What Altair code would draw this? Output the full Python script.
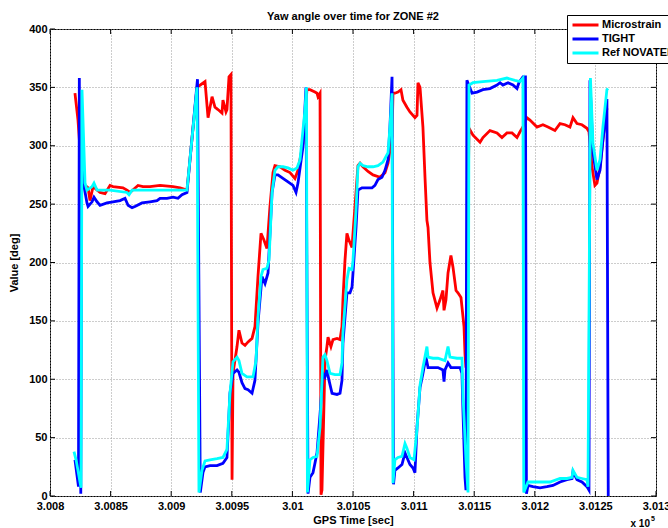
import altair as alt
import pandas as pd

# ---------------- data (GPS time in units of 1e5 s, yaw in deg) ----------------
series_names = ["Microstrain", "TIGHT", "Ref NOVATEL"]
series_colors = ["#ff0000", "#0000ff", "#00ffff"]

red_t = [
    3.008206, 3.008231, 3.008256, 3.008289, 3.008314, 3.008330, 3.008355, 3.008413, 3.008454, 3.008495,
    3.008520, 3.008602, 3.008635, 3.008660, 3.008726, 3.008767, 3.008825, 3.008908, 3.009015, 3.009073, 3.009130,
    3.009213, 3.009279, 3.009304, 3.009337, 3.009361, 3.009386, 3.009419, 3.009427, 3.009452, 3.009460, 3.009477, 3.009493,
    3.009502, 3.009510, 3.009543, 3.009559, 3.009584, 3.009609, 3.009634, 3.009667, 3.009691, 3.009716,
    3.009741, 3.009766, 3.009790, 3.009815, 3.009840, 3.009856, 3.009898, 3.009939, 3.009980, 3.010021, 3.010046, 3.010087, 3.010120,
    3.010145, 3.010186, 3.010203, 3.010211, 3.010228,
    3.010236, 3.010244, 3.010269, 3.010285, 3.010294, 3.010318, 3.010335, 3.010368, 3.010393, 3.010409, 3.010417, 3.010434,
    3.010450, 3.010467, 3.010492, 3.010500, 3.010525, 3.010541, 3.010558, 3.010582, 3.010624, 3.010665, 3.010723, 3.010764, 3.010789, 3.010822,
    3.010830, 3.010846, 3.010871, 3.010896, 3.010912, 3.010945, 3.010970, 3.011011, 3.011028, 3.011036, 3.011053,
    3.011077, 3.011094, 3.011110, 3.011119, 3.011135, 3.011160, 3.011193, 3.011218, 3.011242, 3.011251, 3.011267,
    3.011284, 3.011308, 3.011325, 3.011350, 3.011366, 3.011391, 3.011399, 3.011416, 3.011424, 3.011432,
    3.011457, 3.011490, 3.011548, 3.011572, 3.011630, 3.011688, 3.011729, 3.011770, 3.011812, 3.011853, 3.011878, 3.011902,
    3.011935, 3.011960, 3.012018, 3.012067, 3.012109, 3.012166, 3.012208, 3.012249, 3.012290, 3.012315, 3.012348, 3.012389, 3.012430, 3.012447,
    3.012472, 3.012496, 3.012513, 3.012538, 3.012562, 3.012595,
]
red_v = [
    345, 322, 285, 266, 264, 253, 265, 260, 259, 266,
    265, 264, 262, 260, 266, 265, 265, 266, 265, 264, 262,
    350, 355, 324, 342, 333, 331, 328, 339, 329, 331, 359, 361,
    14, 105, 128, 142, 131, 129, 132, 135, 145, 188,
    225, 219, 212, 248, 277, 283, 282, 279, 277, 272, 279, 302, 348,
    348, 346, 345, 342, 345,
    1, 5, 116, 128, 136, 128, 134, 135, 134, 145, 168, 202,
    225, 219, 213, 225, 260, 283, 285, 282, 278, 275, 273, 277, 285, 308,
    345, 345, 346, 348, 339, 333, 329, 324, 326, 354, 350,
    316, 273, 236, 230, 200, 174, 161, 168, 176, 159, 168,
    191, 206, 196, 176, 174, 170, 162, 145, 122, 110,
    315, 309, 303, 307, 313, 311, 307, 311, 311, 307, 312, 316,
    324, 322, 316, 318, 316, 313, 319, 318, 316, 324, 319, 318, 315, 312,
    282, 266, 268, 282, 305, 332,
]

blue_t = [
    3.008206, 3.008235, 3.008242, 3.008254, 3.008262, 3.008281, 3.008305, 3.008314, 3.008347, 3.008363,
    3.008388, 3.008413, 3.008470, 3.008520, 3.008578, 3.008619, 3.008644, 3.008677, 3.008701, 3.008759,
    3.008825, 3.008883, 3.008908, 3.008965, 3.009015, 3.009056, 3.009089, 3.009130, 3.009217,
    3.009240, 3.009262, 3.009279, 3.009320, 3.009378, 3.009427, 3.009460, 3.009485, 3.009510, 3.009543,
    3.009559, 3.009584, 3.009609, 3.009634, 3.009667, 3.009691, 3.009716, 3.009749, 3.009774, 3.009799,
    3.009832, 3.009856, 3.009881, 3.009922, 3.009964, 3.010005, 3.010030, 3.010046, 3.010087, 3.010112,
    3.010129, 3.010145, 3.010170, 3.010186, 3.010203, 3.010228, 3.010252, 3.010269, 3.010285, 3.010302,
    3.010327, 3.010368, 3.010393, 3.010409, 3.010417, 3.010450, 3.010475, 3.010492, 3.010500, 3.010525,
    3.010541, 3.010574, 3.010615, 3.010657, 3.010681, 3.010706, 3.010739, 3.010764, 3.010789, 3.010805, 3.010822,
    3.010834, 3.010846, 3.010871, 3.010904, 3.010929, 3.010945, 3.010970, 3.010995, 3.011011, 3.011028,
    3.011053, 3.011077, 3.011102, 3.011119, 3.011160, 3.011201, 3.011242, 3.011251, 3.011259, 3.011284,
    3.011308, 3.011341, 3.011383, 3.011399, 3.011407, 3.011424, 3.011432, 3.011440,
    3.011482, 3.011523, 3.011572, 3.011630, 3.011688, 3.011713, 3.011737, 3.011779, 3.011820, 3.011853, 3.011869, 3.011902, 3.011923,
    3.011931, 3.011944, 3.011985, 3.012043, 3.012100, 3.012150, 3.012208, 3.012265, 3.012307, 3.012315, 3.012348, 3.012389, 3.012430, 3.012447,
    3.012455, 3.012480, 3.012513, 3.012538, 3.012562, 3.012587, 3.012595, 3.012606,
]
blue_v = [
    31, 8, 358, 2, 294, 265, 251, 248, 252, 256,
    252, 249, 251, 252, 253, 255, 249, 247, 248, 251,
    252, 253, 255, 255, 256, 255, 258, 260, 357,
    3, 20, 25, 26, 26, 28, 33, 88, 105, 108,
    106, 97, 92, 91, 88, 99, 148, 188, 182, 191,
    260, 275, 275, 272, 269, 266, 260, 268, 299, 350,
    2, 16, 20, 28, 37, 70, 105, 102, 108, 99,
    88, 87, 88, 99, 131, 174, 174, 179, 191, 230,
    262, 264, 264, 264, 266, 271, 273, 279, 288, 316, 359,
    10, 22, 24, 27, 37, 33, 27, 24, 20, 59,
    93, 105, 119, 110, 110, 110, 108, 98, 108, 114,
    110, 110, 110, 105, 74, 16, 5, 356,
    345, 346, 348, 349, 352, 354, 352, 354, 352, 349, 354, 359, 359,
    2, 9, 8, 7, 8, 9, 12, 14, 15, 21, 14, 12, 8, 5,
    356, 294, 271, 279, 305, 328, 340, 0,
]

cyan_t = [
    3.008198, 3.008215, 3.008256, 3.008264, 3.008289, 3.008305, 3.008347, 3.008363, 3.008388, 3.008495,
    3.008635, 3.008652, 3.008677, 3.008800, 3.009130, 3.009213, 3.009229,
    3.009254, 3.009279, 3.009320, 3.009378, 3.009427, 3.009460, 3.009485, 3.009510, 3.009543, 3.009559,
    3.009584, 3.009625, 3.009675, 3.009700, 3.009716, 3.009741, 3.009757, 3.009790, 3.009807, 3.009832,
    3.009856, 3.009881, 3.009922, 3.009964, 3.010005, 3.010038, 3.010063, 3.010104, 3.010116, 3.010124,
    3.010145, 3.010170, 3.010203, 3.010228, 3.010252, 3.010269, 3.010285, 3.010310, 3.010351, 3.010393,
    3.010409, 3.010417, 3.010450, 3.010467, 3.010492, 3.010500, 3.010525, 3.010541, 3.010558, 3.010582,
    3.010624, 3.010665, 3.010706, 3.010747, 3.010789, 3.010805, 3.010822, 3.010830,
    3.010846, 3.010871, 3.010904, 3.010929, 3.010945, 3.010970, 3.011003, 3.011028, 3.011053, 3.011077,
    3.011110, 3.011119, 3.011160, 3.011201, 3.011259, 3.011284, 3.011300, 3.011358, 3.011399, 3.011407,
    3.011432, 3.011449, 3.011457,
    3.011490, 3.011572, 3.011688, 3.011770, 3.011836, 3.011878, 3.011902, 3.011909,
    3.011944, 3.012043, 3.012125, 3.012208, 3.012265, 3.012307, 3.012315, 3.012348, 3.012389, 3.012430, 3.012439,
    3.012459, 3.012480, 3.012513, 3.012538, 3.012562, 3.012595, 3.012604,
]
cyan_v = [
    38, 31, 7, 348, 268, 262, 265, 268, 262, 262,
    260, 258, 262, 262, 262, 350, 3,
    22, 30, 31, 32, 33, 40, 88, 115, 119, 116,
    105, 102, 102, 116, 153, 188, 194, 195, 202, 260,
    279, 282, 282, 281, 279, 281, 288, 331, 350, 3,
    31, 33, 34, 59, 119, 121, 116, 105, 104, 104,
    114, 140, 185, 195, 194, 202, 245, 282, 285, 283,
    282, 282, 283, 286, 294, 316, 345, 11,
    31, 33, 34, 45, 41, 33, 31, 57, 95, 110,
    128, 119, 118, 118, 116, 128, 119, 118, 118, 88,
    31, 3, 352,
    354, 355, 356, 358, 356, 355, 358, 3,
    12, 12, 12, 15, 15, 16, 22, 16, 15, 14, 8,
    358, 302, 279, 288, 316, 348, 349,
]

x_ticks = [3.008, 3.0085, 3.009, 3.0095, 3.01, 3.0105, 3.011, 3.0115, 3.012, 3.0125, 3.013]
y_ticks = [0, 50, 100, 150, 200, 250, 300, 350, 400]
chart_title = "Yaw angle over time for ZONE #2"

# ---------------- chart ----------------
W, H = 606, 467
FONT = "Liberation Sans"


def frame(name, t, v):
    return pd.DataFrame({"t": t, "v": v, "series": name, "i": list(range(len(t)))})


x_scale = alt.Scale(domain=[3.008, 3.013], nice=False, zero=False)
y_scale = alt.Scale(domain=[0, 400], nice=False, zero=False)

x_axis = alt.Axis(
    title="GPS Time [sec]", values=x_ticks, format=".5~f", grid=True,
    gridDash=[1, 2], gridColor="#9a9a9a", gridWidth=1, tickSize=0, domain=False,
    labelFont=FONT, labelFontSize=11, labelFontWeight="bold", labelColor="black",
    labelPadding=4, titleFont=FONT, titleFontSize=11, titleFontWeight="bold",
    titleColor="black", titlePadding=3, labelFlush=False, labelOverlap=False,
)
y_axis = alt.Axis(
    title="Value [deg]", values=y_ticks, grid=True,
    gridDash=[1, 2], gridColor="#9a9a9a", gridWidth=1, tickSize=0, domain=False,
    labelFont=FONT, labelFontSize=11, labelFontWeight="bold", labelColor="black",
    labelPadding=3, titleFont=FONT, titleFontSize=11, titleFontWeight="bold",
    titleColor="black", titlePadding=9, labelFlush=False, labelOverlap=False,
)

X = alt.X("t:Q", scale=x_scale, axis=x_axis)
Y = alt.Y("v:Q", scale=y_scale, axis=y_axis)

legend = alt.Legend(
    title=None, orient="none", legendX=517, legendY=-14,
    fillColor="white", strokeColor="black", padding=4, cornerRadius=0,
    symbolType="stroke", symbolSize=676, symbolStrokeWidth=2.8,
    labelFont=FONT, labelFontSize=11, labelFontWeight="bold", labelColor="black",
    labelOffset=2, rowPadding=2, clipHeight=12, labelLimit=200,
)
color = alt.Color(
    "series:N",
    scale=alt.Scale(domain=series_names, range=series_colors),
    legend=legend,
)


def line_layer(df):
    return alt.Chart(df).mark_line(strokeWidth=2.8, clip=True).encode(
        x=X, y=Y, color=color, order="i:Q"
    )


red = line_layer(frame("Microstrain", red_t, red_v))
blue = line_layer(frame("TIGHT", blue_t, blue_v))
cyan = line_layer(frame("Ref NOVATEL", cyan_t, cyan_v))

xt = pd.DataFrame({"t": x_ticks})
yt = pd.DataFrame({"v": y_ticks})
tick_bottom = alt.Chart(xt).mark_rule(color="black", strokeWidth=1).encode(
    x=X, y=alt.value(H), y2=alt.value(H - 5))
tick_top = alt.Chart(xt).mark_rule(color="black", strokeWidth=1).encode(
    x=X, y=alt.value(0), y2=alt.value(5))
tick_left = alt.Chart(yt).mark_rule(color="black", strokeWidth=1).encode(
    y=Y, x=alt.value(0), x2=alt.value(5))
tick_right = alt.Chart(yt).mark_rule(color="black", strokeWidth=1).encode(
    y=Y, x=alt.value(W - 5), x2=alt.value(W))

one = pd.DataFrame({"a": [0]})
title_text = alt.Chart(one).mark_text(
    text=chart_title, font=FONT, fontSize=11, fontWeight="bold", color="black",
    align="center", baseline="middle").encode(x=alt.value(W / 2), y=alt.value(-12))
exp_base = alt.Chart(one).mark_text(
    text="x 10", font=FONT, fontSize=10, fontWeight="bold", color="black",
    align="right", baseline="middle").encode(x=alt.value(600), y=alt.value(495))
exp_sup = alt.Chart(one).mark_text(
    text="5", font=FONT, fontSize=7, fontWeight="bold", color="black",
    align="left", baseline="middle").encode(x=alt.value(601), y=alt.value(490))

chart = alt.layer(
    red, blue, cyan, tick_bottom, tick_top, tick_left, tick_right,
    title_text, exp_base, exp_sup
).properties(
    width=W, height=H,
    padding={"left": 50, "top": 29, "right": 12, "bottom": 32},
    autosize=alt.AutoSizeParams(type="none"),
    background="white",
).configure_view(stroke="black", strokeWidth=1)

chart.save("out.html", embed_options={"renderer": "svg", "actions": False})
